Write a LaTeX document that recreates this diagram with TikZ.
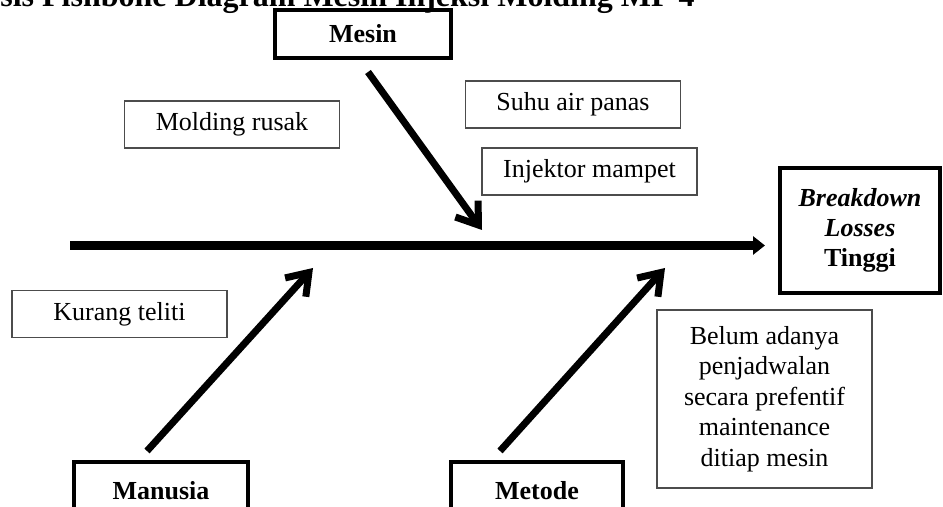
\documentclass[tikz,border=0pt]{standalone}
\usepackage{fontspec}
\setmainfont{Liberation Serif}
\usetikzlibrary{arrows.meta}

\begin{document}
\begin{tikzpicture}[x=0.5pt, y=-0.5pt, node distance=188pt,
                    cause node/.style={draw,line width=2pt,minimum width=87pt,minimum height=29pt,inner sep=0pt,font=\fontsize{13}{15}\selectfont\bfseries},
                    sub node/.style={draw=black!70,line width=0.75pt,minimum width=107.5pt,minimum height=23.5pt,inner sep=0pt,font=\fontsize{13}{15}\selectfont},
                    bone/.style={line width=3.5pt,-{Straight Barb[length=10pt,width=14pt]}}]

  \useasboundingbox (0,0) rectangle (943,507);

  \node[anchor=base west,inner sep=0pt,font=\fontsize{16}{18}\selectfont\bfseries] (title) at (0,7) {sis Fishbone Diagram Mesin Injeksi Molding MP 4};

  \node[cause node,minimum width=88pt,minimum height=24pt] (mesin) at (363,34) {Mesin};
  \node[cause node] (manusia) at (161,491) {Manusia};
  \node[cause node,minimum width=86pt] (metode) [right of=manusia] {Metode};
  \node[cause node,minimum width=80pt,minimum height=62.5pt,align=center] (effect) at (860,230.5) {\textit{Breakdown}\\ \textit{Losses}\\ Tinggi};

  \node[sub node] (molding) at (232,124.5) {Molding rusak};
  \node[sub node] (suhu) at (573,104.5) {Suhu air panas};
  \node[sub node] (injektor) at (589.5,171.5) {Injektor mampet};
  \node[sub node] (kurang) at (119.5,314) {Kurang teliti};
  \node[sub node,minimum height=89pt,align=center,font=\fontsize{13}{15.3}\selectfont] (belum) at (764.5,399) {Belum adanya\\ penjadwalan\\ secara prefentif\\ maintenance\\ ditiap mesin};

  \coordinate (tail) at (70,245.5);
  \coordinate (head) at (765,245.5);
  \coordinate (tip1) at (482,230);
  \coordinate (tip2) at (313,268);
  \coordinate (tip3) at (665,268);

  \draw[line width=4.5pt,-{Triangle[length=6pt,width=9pt]}] (tail) -- (head);

\path[bone]
       ([shift={(5,12)}]mesin.south) edge (tip1)
       ([shift={(-14,-9)}]manusia.north) edge (tip2)
       ([shift={(-37,-9)}]metode.north) edge (tip3)
  ;

\end{tikzpicture}
\end{document}
